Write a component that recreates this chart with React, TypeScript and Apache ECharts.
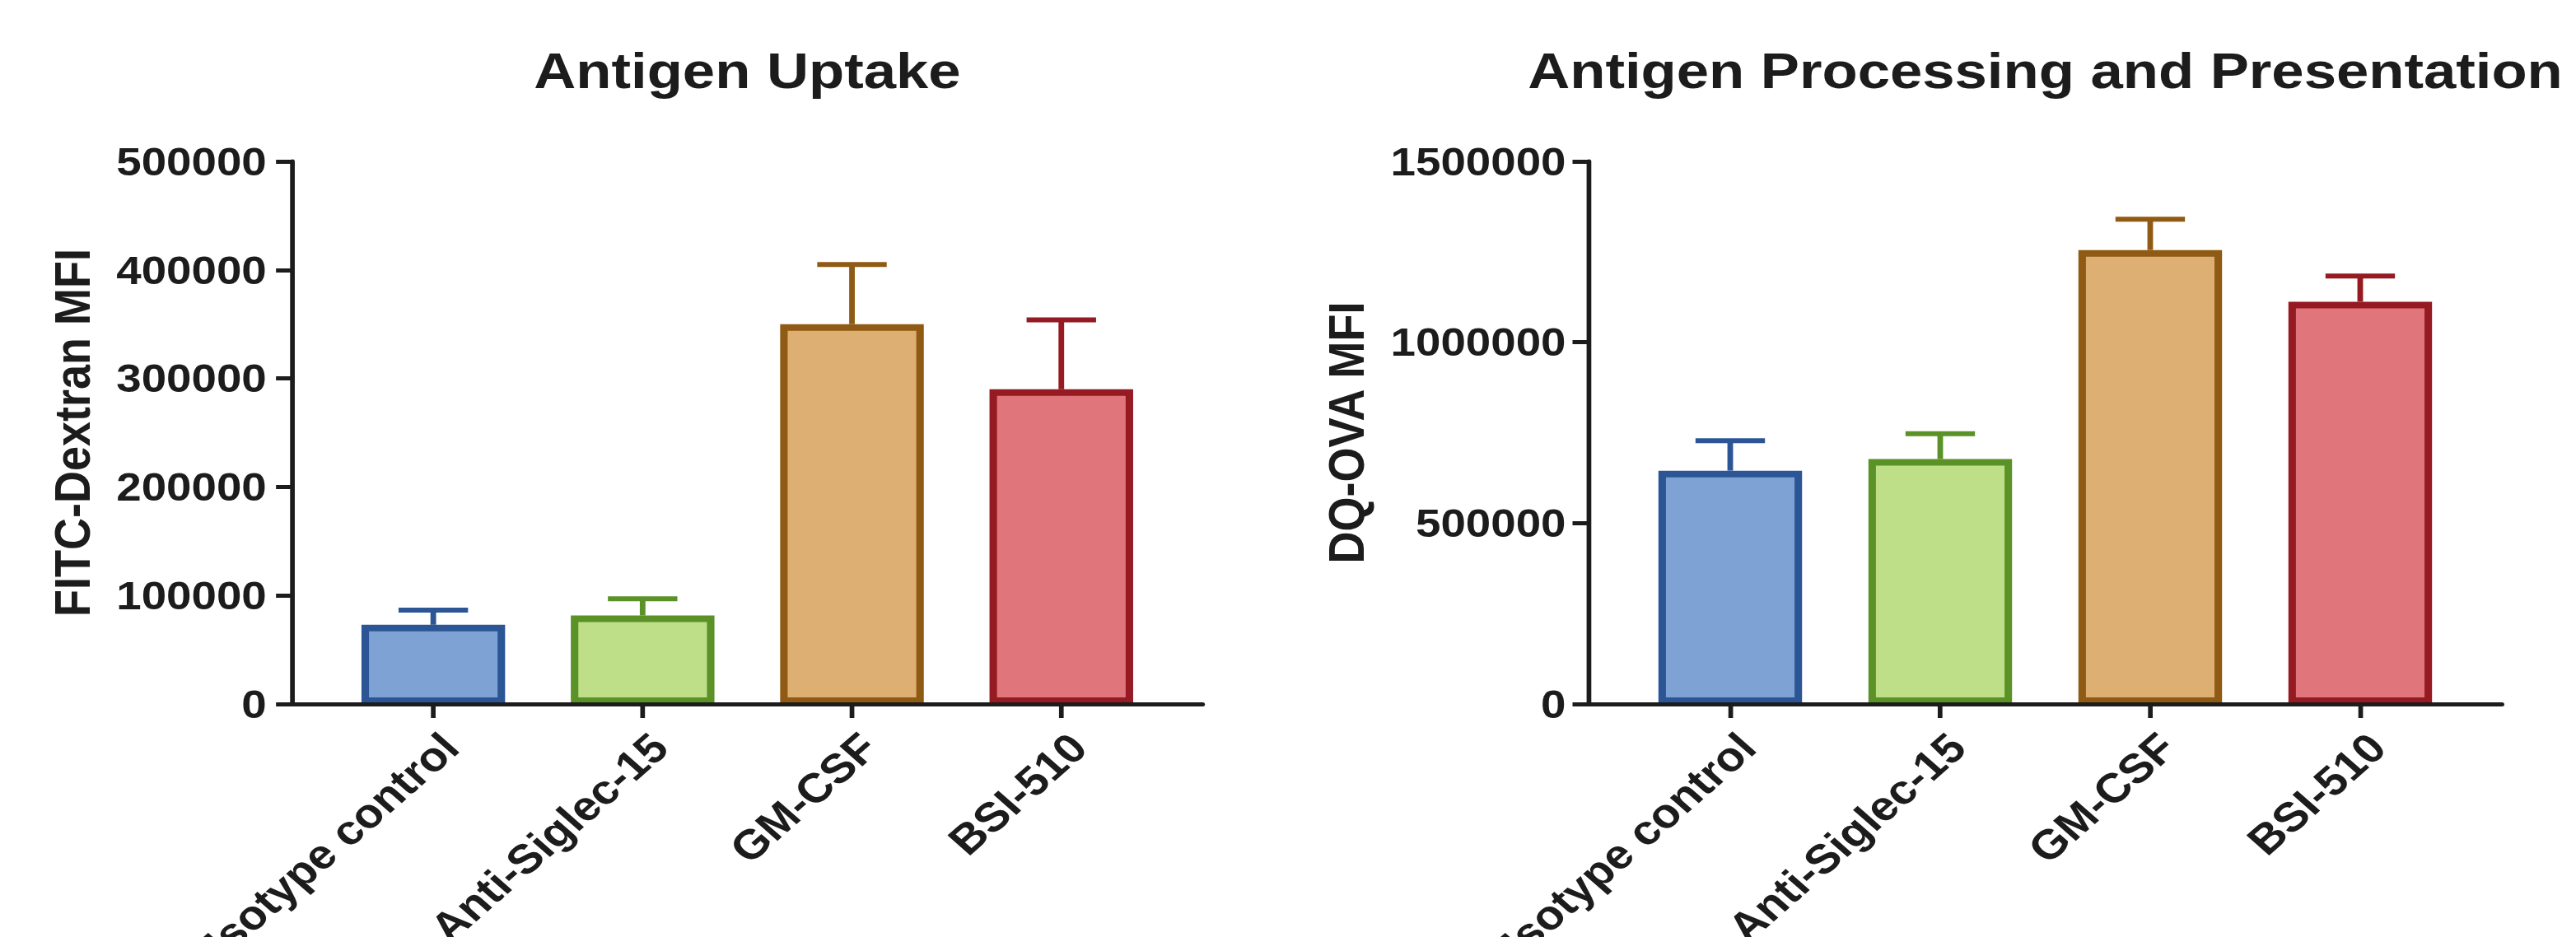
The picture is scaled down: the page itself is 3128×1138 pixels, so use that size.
import React, { useEffect, useRef } from "react";
import * as echarts from "echarts";

// ---- data ----
const categories = ["Isotype control", "Anti-Siglec-15", "GM-CSF", "BSI-510"];
const uptakeMean = [73000, 81500, 350000, 290000];
const uptakeSem = [13500, 15500, 55000, 64000];
const processingMean = [645000, 677000, 1255000, 1112000];
const processingSem = [83000, 70000, 85000, 71000];
const uptakeAxis = { min: 0, max: 500000, interval: 100000 };
const processingAxis = { min: 0, max: 1500000, interval: 500000 };
const titles = ["Antigen Uptake", "Antigen Processing and Presentation"];
const yNames = ["FITC-Dextran MFI", "DQ-OVA MFI"];
const fillColors = ["#7FA2D5", "#BFDE88", "#DDAF72", "#E0767B"];
const borderColors = ["#2C5595", "#5A9228", "#8F5A13", "#951A22"];

// ---- layout / style ----
const STRETCH = 1.14;
const W = Math.round(3128 / STRETCH);
const H = 1138;
const FONT = "'Liberation Sans', Arial, Helvetica, sans-serif";
const INK = "#1c1c1c";
const GRID_TOP = 196;
const GRID_H = 659;
const GRIDS = [
  { left: 311, width: 970 },
  { left: 1692, width: 973 },
];
const X_MIN = -0.675;
const X_MAX = 3.675;
const LABEL_SHIFT = 0.08;
const CAP_HALF = 37;

export default function App() {
  const ref = useRef<HTMLDivElement>(null);

  useEffect(() => {
    document.body.style.margin = "0";
    document.body.style.overflow = "hidden";
    if (!ref.current) return;
    const chart = echarts.init(ref.current, undefined, {
      renderer: "svg",
      width: W,
      height: H,
    });

    const panels = [
      { mean: uptakeMean, sem: uptakeSem, axis: uptakeAxis, name: yNames[0], nameGap: 207, labelMargin: 27 },
      { mean: processingMean, sem: processingSem, axis: processingAxis, name: yNames[1], nameGap: 231, labelMargin: 24 },
    ];

    const lineStyle = { color: INK, width: 5 };

    const xAxis = panels.map((_, gi) => ({
      type: "value",
      gridIndex: gi,
      min: X_MIN,
      max: X_MAX,
      z: 5,
      axisLine: { show: true, onZero: false, lineStyle },
      axisTick: {
        show: true,
        customValues: categories.map((_, i) => i),
        length: 17,
        lineStyle,
      },
      axisLabel: {
        show: true,
        customValues: categories.map((_, i) => i + LABEL_SHIFT),
        formatter: (v: number) => categories[Math.round(v)] ?? "",
        rotate: 45,
        margin: 44,
        fontSize: 50,
        fontWeight: "bold",
        fontFamily: FONT,
        color: INK,
        hideOverlap: false,
      },
      splitLine: { show: false },
    }));

    const yAxis = panels.map((p, gi) => ({
      type: "value",
      gridIndex: gi,
      min: p.axis.min,
      max: p.axis.max,
      interval: p.axis.interval,
      z: 5,
      axisLine: { show: true, onZero: false, lineStyle },
      axisTick: { show: true, length: 17, lineStyle },
      axisLabel: {
        margin: p.labelMargin,
        fontSize: 48,
        fontWeight: "bold",
        fontFamily: FONT,
        color: INK,
        formatter: (v: number) => String(v),
      },
      splitLine: { show: false },
      name: p.name,
      nameLocation: "middle",
      nameRotate: 90,
      nameGap: p.nameGap,
      nameTextStyle: {
        fontSize: 54,
        fontWeight: "bold",
        fontFamily: FONT,
        color: INK,
      },
    }));

    const series: any[] = [];
    panels.forEach((p, gi) => {
      series.push({
        type: "custom",
        xAxisIndex: gi,
        yAxisIndex: gi,
        z: 1,
        data: p.mean.map((m, i) => [i, m, p.sem[i]]),
        encode: { x: 0, y: 1 },
        renderItem: (params: any, api: any) => {
          const i = params.dataIndex;
          const x = api.value(0);
          const m = api.value(1);
          const e = api.value(2);
          const p0 = api.coord([x, m]);
          const p1 = api.coord([x, m + e]);
          const stroke = borderColors[i];
          return {
            type: "group",
            children: [
              {
                type: "line",
                shape: { x1: p0[0], y1: p0[1], x2: p1[0], y2: p1[1] },
                style: { stroke, lineWidth: 6 },
              },
              {
                type: "line",
                shape: { x1: p1[0] - CAP_HALF, y1: p1[1], x2: p1[0] + CAP_HALF, y2: p1[1] },
                style: { stroke, lineWidth: 6 },
              },
            ],
          };
        },
      });
      series.push({
        type: "bar",
        xAxisIndex: gi,
        yAxisIndex: gi,
        z: 2,
        barWidth: 153,
        data: p.mean.map((m, i) => ({
          value: [i, m],
          itemStyle: {
            color: fillColors[i],
            borderColor: borderColors[i],
            borderWidth: 8,
          },
        })),
      });
    });

    const option: any = {
      animation: false,
      backgroundColor: "#ffffff",
      grid: GRIDS.map((g) => ({
        left: g.left,
        top: GRID_TOP,
        width: g.width,
        height: GRID_H,
        containLabel: false,
        outerBoundsMode: "none",
      })),
      xAxis,
      yAxis,
      series,
      graphic: GRIDS.map((g, gi) => ({
        type: "text",
        x: g.left + g.width / 2,
        y: 86,
        style: {
          text: titles[gi],
          fontSize: 62,
          fontWeight: "bold",
          fontFamily: FONT,
          fill: INK,
          align: "center",
          verticalAlign: "middle",
        },
      })),
    };

    chart.setOption(option);
    return () => {
      chart.dispose();
    };
  }, []);

  return (
    <div
      ref={ref}
      style={{
        width: W,
        height: H,
        transform: `scaleX(${STRETCH})`,
        transformOrigin: "0 0",
      }}
    />
  );
}
